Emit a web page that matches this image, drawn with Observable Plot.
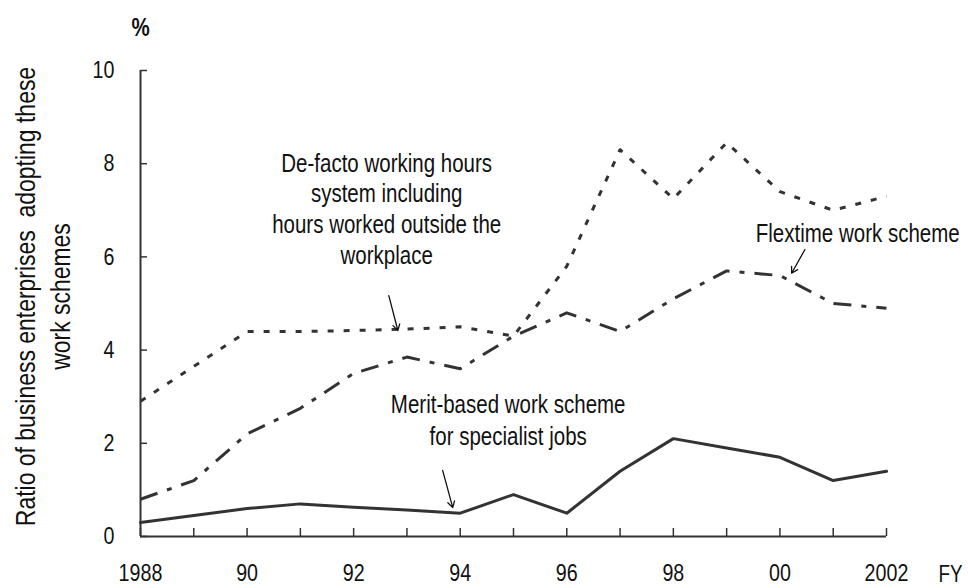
<!DOCTYPE html>
<html>
<head>
<meta charset="utf-8">
<script src="https://cdn.jsdelivr.net/npm/d3@7"></script>
<script src="https://cdn.jsdelivr.net/npm/@observablehq/plot@0.6"></script>
<style>
  html, body { margin: 0; padding: 0; background: #fff; }
  #chart svg text { white-space: pre; }
</style>
</head>
<body>
<div id="chart"></div>
<script>
// ---- data ----
const years = [1988, 1989, 1990, 1991, 1992, 1993, 1994, 1995, 1996, 1997, 1998, 1999, 2000, 2001, 2002];
const deFacto   = [2.9, 3.65, 4.4, 4.4, 4.42, 4.45, 4.5, 4.3, 5.8, 8.3, 7.25, 8.45, 7.4, 7.0, 7.3];
const flextime  = [0.8, 1.2, 2.2, 2.75, 3.5, 3.85, 3.6, 4.3, 4.8, 4.4, 5.1, 5.7, 5.6, 5.0, 4.9];
const merit     = [0.3, 0.45, 0.6, 0.7, 0.63, 0.57, 0.5, 0.9, 0.5, 1.4, 2.1, 1.9, 1.7, 1.2, 1.4];

const xLabelYears = [1988, 1990, 1992, 1994, 1996, 1998, 2000, 2002];
const xLabels     = ["1988", "90", "92", "94", "96", "98", "00", "2002"];
const yTicks      = [0, 2, 4, 6, 8, 10];

const yTitle = "Ratio of business enterprises  adopting these\nwork schemes";
const unitLabel = "%";
const xUnitLabel = "FY";

const notes = [
  {text: "De-facto working hours\nsystem including\nhours worked outside the\nworkplace", x: 1992.62, y: 7.05, lh: 1.23},
  {text: "Flextime work scheme", x: 2001.46, y: 6.52, lh: 1.2},
  {text: "Merit-based work scheme\nfor specialist jobs", x: 1994.9, y: 2.53, lh: 1.28}
];
const arrows = [
  {x1: 1992.66, y1: 5.17, x2: 1992.83, y2: 4.42},
  {x1: 2000.47, y1: 6.16, x2: 2000.22, y2: 5.65},
  {x1: 1993.67, y1: 1.42, x2: 1993.86, y2: 0.62}
];

// ---- build ----
const rows = (vals) => years.map((yr, i) => ({year: yr, value: vals[i]}));
const labelMap = new Map(xLabelYears.map((y, i) => [y, xLabels[i]]));

const W = 968, H = 588;
const mL = 140, mR = 82, mT = 70, mB = 52;
const plotW = W - mL - mR, plotH = H - mT - mB;
const ink = "#333";
const font = '"Liberation Sans", Arial, sans-serif';
const narrow = 0.82; // condensed look of the original's narrow typeface

const chart = Plot.plot({
  width: W,
  height: H,
  marginLeft: mL,
  marginRight: mR,
  marginTop: mT,
  marginBottom: mB,
  style: {fontFamily: font, fontSize: "23px", color: "#111", background: "#fff", overflow: "visible"},
  x: {domain: [years[0], years[years.length - 1]]},
  y: {domain: [0, 10]},
  marks: [
    // axis lines
    Plot.ruleX([years[0]], {y1: 0, y2: 10, stroke: ink, strokeWidth: 2}),
    Plot.ruleY([0], {x1: years[0], x2: years[years.length - 1], stroke: ink, strokeWidth: 2}),
    // inward ticks
    Plot.tickY(yTicks, {y: d => d, stroke: ink, strokeWidth: 1.5, insetRight: plotW - 7}),
    Plot.tickX(years, {x: d => d, stroke: ink, strokeWidth: 1.5, insetTop: plotH - 8}),
    // tick labels
    Plot.axisY(yTicks, {tickSize: 0, tickPadding: 26, fontSize: 24, fill: "#111"}),
    Plot.axisX(xLabelYears, {tickSize: 0, tickPadding: 27, fontSize: 24, fill: "#111", tickFormat: d => labelMap.get(d)}),
    // series
    Plot.line(rows(deFacto), {x: "year", y: "value", stroke: ink, strokeWidth: 3, strokeDasharray: "6 10", strokeLinecap: "butt"}),
    Plot.line(rows(flextime), {x: "year", y: "value", stroke: ink, strokeWidth: 3, strokeDasharray: "18 10 5 10", strokeLinecap: "butt"}),
    Plot.line(rows(merit), {x: "year", y: "value", stroke: ink, strokeWidth: 3}),
    // annotations
    ...notes.map(n => Plot.text([n], {x: "x", y: "y", text: "text", fontSize: 25, lineHeight: n.lh, textAnchor: "middle", lineAnchor: "middle", fill: "#111"})),
    Plot.arrow(arrows, {x1: "x1", y1: "y1", x2: "x2", y2: "y2", stroke: "#111", strokeWidth: 1.3, headLength: 8}),
    // unit labels
    Plot.text([unitLabel], {x: years[0], y: 10, dy: -43, fontSize: 25, fontWeight: "bold", fill: "#111"}),
    Plot.text([xUnitLabel], {x: years[years.length - 1], y: 0, dx: 64, dy: 38, fontSize: 23, fill: "#111"}),
    // y title
    Plot.text([yTitle], {frameAnchor: "left", y: 5.15, dx: 41 - mL, rotate: -90, fontSize: 28, lineHeight: 1.22, textAnchor: "middle", lineAnchor: "middle", fill: "#111"})
  ]
});

// condense every label along its own baseline direction
chart.querySelectorAll("text").forEach(t => {
  const tr = t.getAttribute("transform") || "";
  t.setAttribute("transform", (tr + ` scale(${narrow},1)`).trim());
});
document.getElementById("chart").appendChild(chart);
</script>
</body>
</html>
